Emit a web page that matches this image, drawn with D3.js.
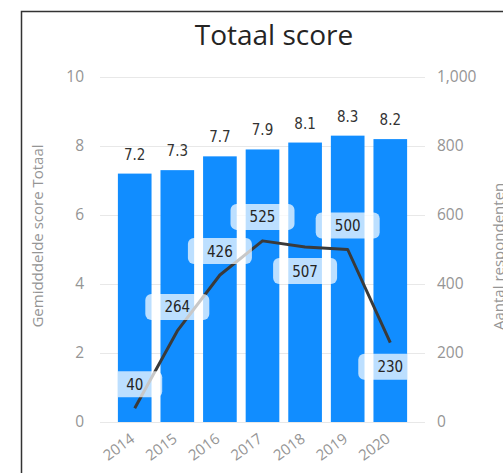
<!DOCTYPE html>
<html><head><meta charset="utf-8">
<script src="https://cdn.jsdelivr.net/npm/d3@7"></script>
<style>html,body{margin:0;padding:0;background:#fff;overflow:hidden}</style>
</head><body>
<svg id="c" width="503" height="473"></svg>
<script>
const years = ["2014","2015","2016","2017","2018","2019","2020"];
const scores = [7.2, 7.3, 7.7, 7.9, 8.1, 8.3, 8.2];
const respondents = [40, 264, 426, 525, 507, 500, 230];
const respLabelPos = ["above","above","above","above","below","above","below"];
const leftTicks = [0, 2, 4, 6, 8, 10];
const rightTicks = [0, 200, 400, 600, 800, 1000];

const svg = d3.select("#c");
const pTop = 77, pBottom = 422, pLeft = 100, pRight = 425;
const x = d3.scaleBand().domain(years).range([pLeft, pRight]).paddingInner(0.21).paddingOuter(0.42);
const yL = d3.scaleLinear().domain([0, 10]).range([pBottom, pTop]);
const yR = d3.scaleLinear().domain([0, 1000]).range([pBottom, pTop]);
const tickFont = "Open Sans, sans-serif";
const dlFont = "DejaVu Sans Condensed, sans-serif";
const grey = "#959595";

// frame
svg.append("path").attr("d", "M21.5,480 V11.5 H510").attr("fill","none").attr("stroke","#333").attr("stroke-width",1.5);

// title
svg.append("text").attr("x", 274).attr("y", 45).attr("text-anchor","middle")
  .attr("font-family", tickFont).attr("font-size", 28).attr("fill","#252423").text("Totaal score");

// gridlines + left axis
const gL = d3.axisLeft(yL).tickValues(leftTicks).tickSize(-(pRight-pLeft)).tickFormat(d3.format("d"));
const ga = svg.append("g").attr("transform", `translate(${pLeft},0)`).call(gL);
ga.select(".domain").remove();
ga.selectAll(".tick line").attr("stroke","#e8e8e8").attr("stroke-width",1);
ga.selectAll(".tick text").attr("x", -16).attr("font-family", tickFont).attr("font-size", 15.5).attr("fill",grey);

const gR = d3.axisRight(yR).tickValues(rightTicks).tickSize(0).tickFormat(d3.format(","));
const gr = svg.append("g").attr("transform", `translate(${pRight},0)`).call(gR);
gr.select(".domain").remove();
gr.selectAll(".tick text").attr("x", 12).attr("font-family", tickFont).attr("font-size", 15.5).attr("fill",grey);

// x axis
const gX = d3.axisBottom(x).tickSize(0);
const gx = svg.append("g").attr("transform", `translate(0,${pBottom})`).call(gX);
gx.select(".domain").remove();
gx.selectAll(".tick text").attr("font-family", tickFont).attr("font-size", 15).attr("fill",grey)
  .attr("text-anchor","end").attr("dy", 0).attr("y", 0)
  .attr("transform", "translate(1,19) rotate(-36)");

// axis titles
svg.append("text").attr("transform", `translate(43,236) rotate(-90)`).attr("text-anchor","middle")
  .attr("font-family", tickFont).attr("font-size", 15).attr("fill",grey).text("Gemidddelde score Totaal");
svg.append("text").attr("transform", `translate(504,330) rotate(-90)`).attr("text-anchor","start")
  .attr("font-family", tickFont).attr("font-size", 15).attr("fill",grey).text("Aantal respondenten");

// bars
svg.append("g").selectAll("rect").data(years).join("rect")
  .attr("x", d => x(d)).attr("width", x.bandwidth())
  .attr("y", (d,i) => yL(scores[i])).attr("height", (d,i) => pBottom - yL(scores[i]))
  .attr("fill", "#118DFF");

// bar labels
svg.append("g").selectAll("text").data(years).join("text")
  .attr("x", d => x(d) + x.bandwidth()/2).attr("y", (d,i) => yL(scores[i]) - 14)
  .attr("text-anchor","middle").attr("font-family", dlFont).attr("font-size", 15).attr("fill","#333")
  .text((d,i) => scores[i].toFixed(1));

// line
const cx = d => x(d) + x.bandwidth()/2;
svg.append("path").datum(years)
  .attr("d", d3.line().x(d => cx(d)).y((d,i) => yR(respondents[i])))
  .attr("fill","none").attr("stroke","#3a3a3a").attr("stroke-width",3).attr("stroke-linejoin","round");

// line labels
svg.append("clipPath").attr("id","pc").append("rect")
  .attr("x", x(years[0])).attr("y", 0).attr("width", x(years[6]) + x.bandwidth() - x(years[0])).attr("height", 473);
const lg = svg.append("g").attr("clip-path","url(#pc)");
years.forEach((d,i) => {
  const px = cx(d), py = yR(respondents[i]);
  const cy = respLabelPos[i] === "above" ? py - 24 : py + 24;
  const label = String(respondents[i]);
  const w = label.length * 9 + 37;
  lg.append("rect").attr("x", px - w/2).attr("y", cy - 13).attr("width", w).attr("height", 26)
    .attr("rx", 6).attr("fill", "rgba(255,255,255,0.72)");
  lg.append("text").attr("x", px).attr("y", cy + 5.5).attr("text-anchor","middle")
    .attr("font-family", dlFont).attr("font-size", 15).attr("fill","#252423").text(label);
});
</script>
</body></html>
